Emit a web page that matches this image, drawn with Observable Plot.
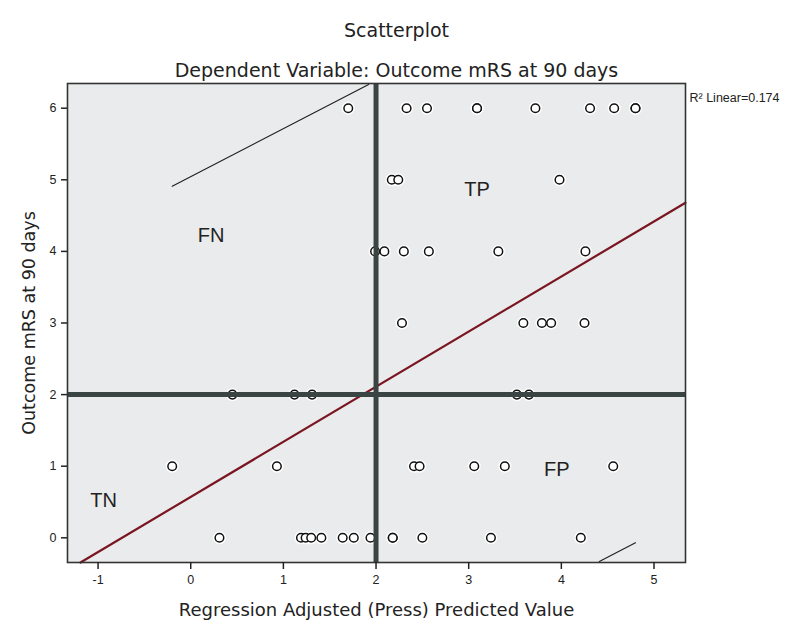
<!DOCTYPE html>
<html>
<head>
<meta charset="utf-8">
<script src="https://cdn.jsdelivr.net/npm/d3@7"></script>
<script src="https://cdn.jsdelivr.net/npm/@observablehq/plot@0.6"></script>
<style>
  html, body { margin: 0; padding: 0; background: #ffffff; }
  #chart { width: 795px; height: 627px; }
</style>
</head>
<body>
<div id="chart"></div>
<script>
// ---- data ----
const predicted = [
  1.70, 2.33, 2.55, 3.09, 3.09, 3.72, 4.31, 4.57, 4.80, 4.80,
  2.17, 2.24, 3.98,
  1.99, 2.09, 2.30, 2.57, 3.32, 4.26,
  2.28, 3.59, 3.79, 3.89, 4.25,
  0.45, 1.12, 1.31, 3.52, 3.65,
  -0.20, 0.93, 2.41, 2.47, 3.06, 3.39, 4.56,
  0.31, 1.19, 1.24, 1.30, 1.41, 1.64, 1.76, 1.94, 2.18, 2.18, 2.50, 3.24, 4.21
];
const outcome = [
  6, 6, 6, 6, 6, 6, 6, 6, 6, 6,
  5, 5, 5,
  4, 4, 4, 4, 4, 4,
  3, 3, 3, 3, 3,
  2, 2, 2, 2, 2,
  1, 1, 1, 1, 1, 1, 1,
  0, 0, 0, 0, 0, 0, 0, 0, 0, 0, 0, 0, 0
];
const xTicks = [-1, 0, 1, 2, 3, 4, 5];
const yTicks = [0, 1, 2, 3, 4, 5, 6];
const fitX = [-1.19, 5.34];
const fitY = [-0.345, 4.68];
const segA_X = [-0.20, 1.92];
const segA_Y = [4.91, 6.33];
const segB_X = [4.41, 4.80];
const segB_Y = [-0.33, -0.07];
const cutX = 2;
const cutY = 2;
const quadLabels = ["FN", "TP", "TN", "FP"];
const quadX = [0.22, 3.09, -0.94, 3.95];
const quadY = [4.22, 4.87, 0.52, 0.95];
const titleText = "Scatterplot";
const subtitleText = "Dependent Variable: Outcome mRS at 90 days";
const xLabel = "Regression Adjusted (Press) Predicted Value";
const yLabel = "Outcome mRS at 90 days";
const r2Text = "R\u00B2 Linear=0.174";

// ---- tables built from the arrays ----
const points = predicted.map((p, i) => ({x: p, y: outcome[i]}));
const fit = fitX.map((x, i) => ({x, y: fitY[i]}));
const segA = segA_X.map((x, i) => ({x, y: segA_Y[i]}));
const segB = segB_X.map((x, i) => ({x, y: segB_Y[i]}));
const quads = quadLabels.map((t, i) => ({t, x: quadX[i], y: quadY[i]}));

const titleFont = "'DejaVu Sans', Verdana, sans-serif";
const smallFont = "'Liberation Sans', Arial, sans-serif";

const chart = Plot.plot({
  width: 795,
  height: 627,
  marginLeft: 67,
  marginRight: 110,
  marginTop: 83,
  marginBottom: 65,
  style: {background: "#ffffff", fontFamily: smallFont, overflow: "visible"},
  x: {domain: [-1.33, 5.34], label: null},
  y: {domain: [-0.345, 6.345], label: null},
  marks: [
    Plot.frame({fill: "#eaebec"}),
    Plot.line(fit, {x: "x", y: "y", stroke: "#7a1522", strokeWidth: 2.2}),
    Plot.line(segA, {x: "x", y: "y", stroke: "#222", strokeWidth: 1.2}),
    Plot.line(segB, {x: "x", y: "y", stroke: "#222", strokeWidth: 1.2}),
    Plot.dot(points, {x: "x", y: "y", r: 5.5, fill: "#ffffff", stroke: "#ffffff", strokeWidth: 2}),
    Plot.dot(points, {x: "x", y: "y", r: 4.3, fill: "#ffffff", stroke: "#111", strokeWidth: 1.5}),
    Plot.ruleY([cutY], {stroke: "#3a4443", strokeWidth: 5}),
    Plot.ruleX([cutX], {stroke: "#3a4443", strokeWidth: 5}),
    Plot.frame({stroke: "#333", strokeWidth: 1.6}),
    Plot.text(quads, {x: "x", y: "y", text: "t", fontSize: 20, fill: "#222", fontFamily: smallFont}),
    Plot.axisX({ticks: xTicks, tickSize: 7, tickPadding: 6, fontSize: 12.5, stroke: "#222", strokeWidth: 1.5, tickFormat: d => String(d), fill: "#222", label: null}),
    Plot.axisY({ticks: yTicks, tickSize: 6, tickPadding: 5, fontSize: 12.5, stroke: "#222", strokeWidth: 1.5, tickFormat: d => String(d), fill: "#222", label: null}),
    Plot.text([titleText], {frameAnchor: "top", lineAnchor: "middle", dx: 20, dy: -53, fontSize: 19, fill: "#222", fontFamily: titleFont}),
    Plot.text([subtitleText], {frameAnchor: "top", lineAnchor: "middle", dx: 20, dy: -13, fontSize: 19, fill: "#222", fontFamily: titleFont}),
    Plot.text([xLabel], {frameAnchor: "bottom", lineAnchor: "middle", dy: 48, fontSize: 18, fill: "#222", fontFamily: titleFont}),
    Plot.text([yLabel], {frameAnchor: "left", lineAnchor: "middle", textAnchor: "middle", dx: -38, rotate: -90, fontSize: 17.5, fill: "#222", fontFamily: titleFont}),
    Plot.text([r2Text], {frameAnchor: "top-right", lineAnchor: "middle", textAnchor: "start", dx: 4, dy: 14, fontSize: 12.5, fill: "#222", fontFamily: smallFont})
  ]
});
document.getElementById("chart").appendChild(chart);
</script>
</body>
</html>
